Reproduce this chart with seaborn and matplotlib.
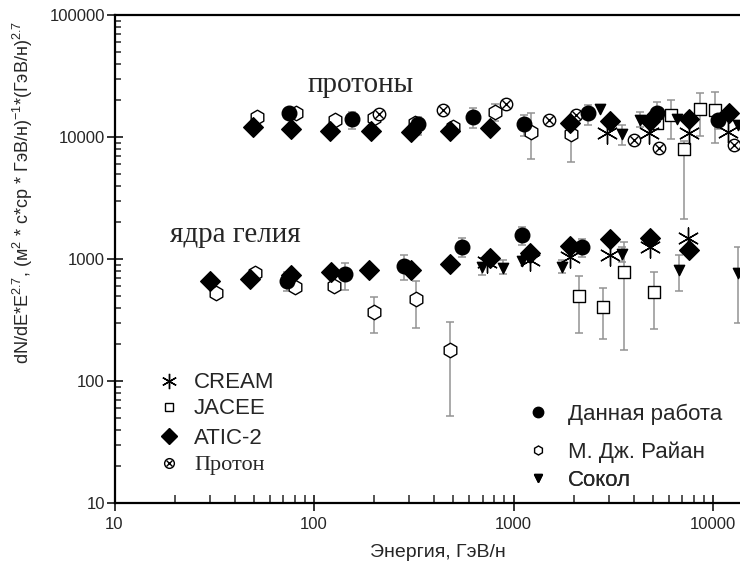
import numpy as np
import pandas as pd
import matplotlib
matplotlib.use("Agg")
import matplotlib.pyplot as plt
import seaborn as sns
from matplotlib.lines import Line2D
from matplotlib.ticker import FixedLocator, FuncFormatter, LogLocator, NullFormatter

# ---------------- data ----------------
# Protons
P_OUR_E = [75, 155, 333, 625, 1130, 2370, 5220, 10560]
P_OUR_F = [15800, 13970, 12700, 14500, 12800, 15600, 15800, 13800]
P_OUR_LO = [14300, 11560, 10400, 11900, 10200, 12500, 12800, 11600]
P_OUR_HI = [17200, 16100, 14700, 17200, 15100, 18300, 19200, 16300]

P_RYAN_E = [51.6, 81, 127, 200, 321, 499, 808, 1223, 1941]
P_RYAN_F = [14660, 15800, 13780, 14220, 13100, 12140, 16100, 11050, 10590]
P_RYAN_LO = [None, None, None, None, None, None, 13400, 6560, 6280]
P_RYAN_HI = [None, None, None, None, None, None, 18700, 15640, 13000]

P_ATIC_E = [49.3, 76.4, 120, 192, 305, 481, 763, 1918, 3047, 4833, 7606, 12070]
P_ATIC_F = [12140, 11630, 11270, 11270, 11050, 11270, 11770, 12950, 13530, 13530, 14050, 15810]

P_PROTON_E = [212, 442, 917, 1511, 2056, 4017, 5380, 12740]
P_PROTON_F = [15350, 16630, 18650, 13780, 15140, 9450, 8070, 8590]

P_JACEE_E = [5223, 6137, 7182, 8610, 10240]
P_JACEE_F = [13100, 15140, 7920, 16870, 16630]
P_JACEE_LO = [None, 9550, 2113, 10100, 9000]
P_JACEE_HI = [None, 20200, 9300, 23100, 23600]

P_CREAM_E = [2953, 4795, 7606, 11930]
P_CREAM_F = [10720, 10720, 10840, 11050]

P_SOKOL_E = [2714, 3487, 4305, 6578, 13340]
P_SOKOL_F = [16870, 10590, 13780, 13970, 12540]
P_SOKOL_LO = [None, 8590, 12000, None, None]
P_SOKOL_HI = [None, 12540, 16110, None, None]

# Helium nuclei
H_OUR_E = [73, 143, 284, 553, 1099, 2212]
H_OUR_F = [664, 753, 877, 1262, 1574, 1248]
H_OUR_LO = [550, 557, 674, 1033, 1292, 1033]
H_OUR_HI = [787, 933, 1080, 1496, 1820, 1450]

H_ATIC_E = [30.1, 47.7, 76.4, 121, 189, 305, 480, 763, 1210, 1930, 3030, 4860, 7606]
H_ATIC_F = [664, 682, 740, 787, 813, 813, 905, 1014, 1128, 1279, 1450, 1480, 1186]

H_RYAN_E = [32.3, 50.6, 80.3, 126.5, 200, 324, 480]
H_RYAN_F = [530, 772, 586, 604, 370, 468, 179]
H_RYAN_LO = [None, None, None, None, 246, 271, 52]
H_RYAN_HI = [None, None, None, None, 491, 664, 306]

H_CREAM_E = [734, 1210, 1930, 3030, 4860, 7520]
H_CREAM_F = [951, 982, 1045, 1080, 1248, 1480]

H_SOKOL_E = [698, 883, 1099, 1745, 3485, 6780, 13400]
H_SOKOL_F = [856, 849, 964, 866, 1100, 813, 772]
H_SOKOL_LO = [740, 753, None, 775, 950, 550, 297]
H_SOKOL_HI = [920, 982, None, 973, 1250, 1080, 1262]

H_JACEE_E = [2128, 2818, 3590, 5080]
H_JACEE_F = [498, 402, 787, 533]
H_JACEE_LO = [249, 220, 179, 267]
H_JACEE_HI = [726, 576, 1376, 787]

X_TICKS = [10, 100, 1000, 10000]
Y_TICKS = [10, 100, 1000, 10000, 100000]

# ---------------- style ----------------
sns.set_theme(style="white")
plt.rcParams["font.family"] = ["Liberation Sans", "DejaVu Sans"]
plt.rcParams["mathtext.fontset"] = "custom"
plt.rcParams["mathtext.rm"] = "Liberation Sans"
plt.rcParams["mathtext.it"] = "Liberation Sans:italic"
plt.rcParams["mathtext.default"] = "regular"

W, H = 740, 571
fig = plt.figure(figsize=(W / 100, H / 100), dpi=100)
AX_L, AX_B, AX_R, AX_T = 114.5, 503, 761, 15
ax = fig.add_axes([AX_L / W, (H - AX_B) / H, (AX_R - AX_L) / W, (AX_B - AX_T) / H])
ax.set_xscale("log")
ax.set_yscale("log")
ax.set_xlim(10, 10 ** (1 + (AX_R - AX_L) / 199.5))
ax.set_ylim(10, 100000)

ERR_C = "#939393"


def errs(E, F, LO, HI):
    sel = [i for i in range(len(E)) if LO[i] is not None]
    if not sel:
        return
    e = np.array([E[i] for i in sel])
    f = np.array([F[i] for i in sel])
    lo = np.array([LO[i] for i in sel])
    hi = np.array([HI[i] for i in sel])
    ax.errorbar(e, f, yerr=[f - lo, hi - f], fmt="none", ecolor=ERR_C,
                elinewidth=1.1, capsize=3, capthick=1.1, zorder=1)


def pts(E, F, marker, s, face, edge="black", lw=1.0, z=3):
    df = pd.DataFrame({"E": E, "F": F})
    sns.scatterplot(data=df, x="E", y="F", marker=marker, s=s, color=face,
                    edgecolor=edge, linewidth=lw, ax=ax, zorder=z, legend=False)


ASTER = (6, 2, 0)

for E, F, LO, HI in [(P_OUR_E, P_OUR_F, P_OUR_LO, P_OUR_HI),
                     (P_RYAN_E, P_RYAN_F, P_RYAN_LO, P_RYAN_HI),
                     (P_JACEE_E, P_JACEE_F, P_JACEE_LO, P_JACEE_HI),
                     (P_SOKOL_E, P_SOKOL_F, P_SOKOL_LO, P_SOKOL_HI),
                     (H_OUR_E, H_OUR_F, H_OUR_LO, H_OUR_HI),
                     (H_RYAN_E, H_RYAN_F, H_RYAN_LO, H_RYAN_HI),
                     (H_JACEE_E, H_JACEE_F, H_JACEE_LO, H_JACEE_HI),
                     (H_SOKOL_E, H_SOKOL_F, H_SOKOL_LO, H_SOKOL_HI)]:
    errs(E, F, LO, HI)

for E, F in [(P_RYAN_E, P_RYAN_F), (H_RYAN_E, H_RYAN_F)]:
    pts(E, F, "h", 110, "white", z=3)
for E, F in [(P_JACEE_E, P_JACEE_F), (H_JACEE_E, H_JACEE_F)]:
    pts(E, F, "s", 80, "white", z=3)
pts(P_PROTON_E, P_PROTON_F, "o", 80, "white", z=3)
pts(P_PROTON_E, P_PROTON_F, "x", 38, "black", lw=1.0, z=3.1)
for E, F in [(P_ATIC_E, P_ATIC_F), (H_ATIC_E, H_ATIC_F)]:
    pts(E, F, "D", 100, "black", z=4)
for E, F in [(P_OUR_E, P_OUR_F), (H_OUR_E, H_OUR_F)]:
    pts(E, F, "o", 110, "black", z=4)
for E, F in [(P_SOKOL_E, P_SOKOL_F), (H_SOKOL_E, H_SOKOL_F)]:
    pts(E, F, "v", 55, "black", z=4)
for E, F in [(P_CREAM_E, P_CREAM_F), (H_CREAM_E, H_CREAM_F)]:
    pts(E, F, ASTER, 230, "black", lw=1.0, z=5)

# ---------------- axes cosmetics ----------------
for side in ["top", "left", "bottom"]:
    ax.spines[side].set_visible(True)
    ax.spines[side].set_color("black")
    ax.spines[side].set_linewidth(1.6)
ax.spines["right"].set_visible(False)

ax.xaxis.set_major_locator(FixedLocator(X_TICKS))
ax.yaxis.set_major_locator(FixedLocator(Y_TICKS))
ax.xaxis.set_minor_locator(LogLocator(base=10, subs=np.arange(2, 10)))
ax.yaxis.set_minor_locator(LogLocator(base=10, subs=np.arange(2, 10)))
fmt = FuncFormatter(lambda v, p: f"{v:.0f}")
ax.xaxis.set_major_formatter(fmt)
ax.yaxis.set_major_formatter(fmt)
ax.xaxis.set_minor_formatter(NullFormatter())
ax.yaxis.set_minor_formatter(NullFormatter())
ax.tick_params(axis="x", which="major", direction="inout", length=12, width=1.3,
               labelsize=12, pad=4, bottom=True, top=False)
ax.tick_params(axis="x", which="minor", direction="in", length=6, width=1.1,
               bottom=True, top=False)
ax.tick_params(axis="y", which="major", direction="inout", length=12, width=1.3,
               labelsize=12, pad=1, left=True, right=False)
ax.tick_params(axis="y", which="minor", direction="in", length=4, width=1.1,
               left=True, right=False)

ax.set_xlabel("Энергия, ГэВ/н", fontsize=14, labelpad=9)
ax.set_ylabel("dN/dE*E$^{2.7}$, (м$^{2}$ * с*ср * ГэВ/н)$^{-1}$*(ГэВ/н)$^{2.7}$",
              fontsize=13)
ax.yaxis.set_label_coords((35 - AX_L) / (AX_R - AX_L), (AX_B - 192) / (AX_B - AX_T))

ax.text(92.3, 23400, "протоны", family="Liberation Serif", fontsize=21,
        va="baseline", ha="left")
ax.text(19.0, 1377, "ядра гелия", family="Liberation Serif", fontsize=21,
        va="baseline", ha="left")


# ---------------- legends ----------------
def px2ax(px, py):
    return ((px - AX_L) / (AX_R - AX_L), (AX_B - py) / (AX_B - AX_T))


LEG_FS = 16
HL = 1.0
half = HL * LEG_FS * 100 / 72 / 2

left_entries = [
    (Line2D([], [], ls="", marker=ASTER, ms=11, mec="black", mew=1.0), "CREAM", 383, None),
    (Line2D([], [], ls="", marker="s", ms=5.5, mfc="white", mec="black", mew=1.0), "JACEE", 409, None),
    (Line2D([], [], ls="", marker="D", ms=8, mfc="black", mec="black"), "ATIC-2", 438, None),
    ((Line2D([], [], ls="", marker="o", ms=7, mfc="white", mec="black", mew=1.0),
      Line2D([], [], ls="", marker="x", ms=5, mec="black", mew=1.0)), "Протон", 465, "Liberation Serif"),
]
right_entries = [
    (Line2D([], [], ls="", marker="o", ms=7.5, mfc="black", mec="black"), "Данная работа", 414, None),
    (Line2D([], [], ls="", marker="h", ms=6.5, mfc="white", mec="black", mew=1.0), "М. Дж. Райан", 452, None),
    (Line2D([], [], ls="", marker="v", ms=5.5, mfc="black", mec="black"), "Сокол", 480, None),
]

for entries, mx, pad in [(left_entries, 169, 0.63), (right_entries, 538, 0.85)]:
    for h, lab, my, fam in entries:
        leg = ax.legend([h], [lab], loc="center left",
                        bbox_to_anchor=px2ax(mx - half, my),
                        frameon=False, fontsize=LEG_FS, handlelength=HL,
                        handletextpad=pad, borderpad=0, borderaxespad=0)
        if fam:
            leg.get_texts()[0].set_family(fam)
        ax.add_artist(leg)

fig.savefig("out.png", dpi=100)
